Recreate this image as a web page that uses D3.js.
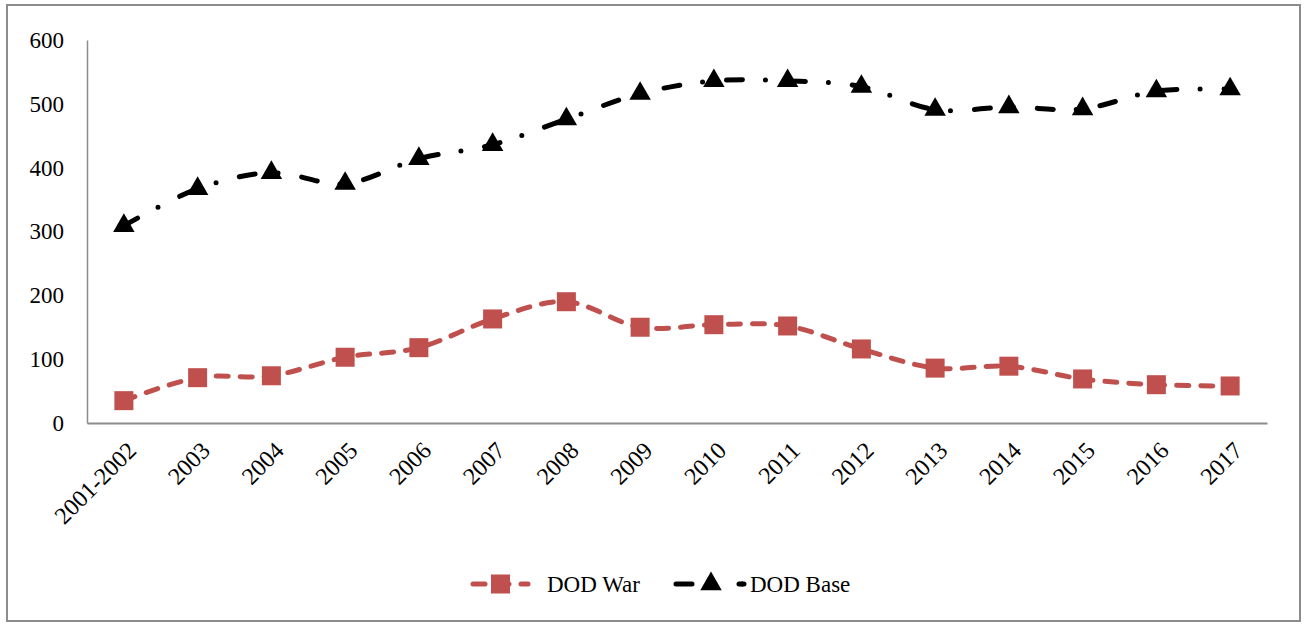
<!DOCTYPE html>
<html><head><meta charset="utf-8">
<script src="https://cdn.jsdelivr.net/npm/d3@7"></script>
<style>body{margin:0;background:#fff}svg{display:block}text{font-family:"Liberation Serif","Times New Roman",serif;fill:#000}</style>
</head><body><svg id="c" width="1304" height="626"></svg>
<script>
const categories=["2001-2002","2003","2004","2005","2006","2007","2008","2009","2010","2011","2012","2013","2014","2015","2016","2017"];
const dodWar=[35,71,74,103,118,163,190,150,154,152,116,86,89,69,60,58];
const dodBase=[309,367,392,375,414,436,476,516,536,536,527,491,495,492,520,523];
const yTicks=[0,100,200,300,400,500,600];
const seriesNames=["DOD War","DOD Base"];

const svg=d3.select("#c");
svg.append("rect").attr("x",7).attr("y",5).attr("width",1293).attr("height",616)
  .attr("fill","#fff").attr("stroke","#8c8c8c").attr("stroke-width",2);

const pL=87,pR=1267,pT=40,pB=423;
const x=d3.scaleBand().domain(categories).range([pL,pR]);
const y=d3.scaleLinear().domain([0,600]).range([pB,pT]);

const ya=svg.append("g").attr("transform",`translate(${pL},0)`)
  .call(d3.axisLeft(y).tickValues(yTicks).tickSize(0).tickPadding(23));
ya.select(".domain").attr("stroke","#8c8c8c").attr("stroke-width",1.5);
ya.selectAll("text").attr("font-size",23).style("font-family","Liberation Serif");

const xa=svg.append("g").attr("transform",`translate(0,${pB})`)
  .call(d3.axisBottom(x).tickSize(0).tickPadding(0));
xa.select(".domain").attr("stroke","#8c8c8c").attr("stroke-width",2);
xa.selectAll("text").attr("font-size",24).style("font-family","Liberation Serif")
  .attr("text-anchor","end").attr("dy","0.35em")
  .attr("transform","translate(8,23) rotate(-45)");

const cx=d=>x(d)+x.bandwidth()/2;
const line=d3.line().curve(d3.curveCardinal.tension(0));

const red="#C0504D";
const warPts=categories.map((c,i)=>[cx(c),y(dodWar[i])]);
const basePts=categories.map((c,i)=>[cx(c),y(dodBase[i])]);

svg.append("path").attr("d",line(warPts)).attr("fill","none").attr("stroke",red)
  .attr("stroke-width",5).attr("stroke-linecap","round").attr("stroke-dasharray","12,12");
svg.append("path").attr("d",line(basePts)).attr("fill","none").attr("stroke","#000")
  .attr("stroke-width",5).attr("stroke-linecap","round").attr("stroke-dasharray","16,23,0,24");

const sq=19;
svg.selectAll("rect.war").data(warPts).enter().append("rect").attr("class","war")
  .attr("x",d=>d[0]-sq/2).attr("y",d=>d[1]-sq/2).attr("width",sq).attr("height",sq).attr("fill",red);
const tri=d3.symbol().type(d3.symbolTriangle).size(200);
svg.selectAll("path.base").data(basePts).enter().append("path").attr("class","base")
  .attr("d",tri).attr("transform",d=>`translate(${d[0]},${d[1]})`).attr("fill","#000");

const ly=584;
const lg=svg.append("g");
lg.append("line").attr("x1",473).attr("x2",528).attr("y1",ly).attr("y2",ly).attr("stroke",red)
  .attr("stroke-width",5).attr("stroke-linecap","round").attr("stroke-dasharray","12,12");
lg.append("rect").attr("x",500.5-sq/2).attr("y",ly-sq/2).attr("width",sq).attr("height",sq).attr("fill",red);
lg.append("text").attr("x",547).attr("y",ly).attr("dy","0.35em").attr("font-size",23).text(seriesNames[0]);
lg.append("line").attr("x1",676).attr("x2",744).attr("y1",ly).attr("y2",ly).attr("stroke","#000")
  .attr("stroke-width",5).attr("stroke-linecap","round").attr("stroke-dasharray","16,23,0,24");
lg.append("path").attr("d",tri).attr("transform",`translate(711,${ly})`).attr("fill","#000");
lg.append("circle").attr("cx",742).attr("cy",ly).attr("r",2.5).attr("fill","#000");
lg.append("text").attr("x",750).attr("y",ly).attr("dy","0.35em").attr("font-size",23).text(seriesNames[1]);
</script></body></html>
